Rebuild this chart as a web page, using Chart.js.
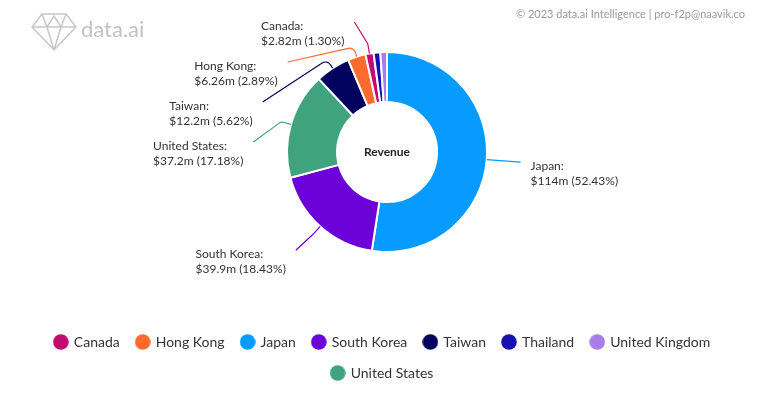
<!DOCTYPE html>
<html>
<head>
<meta charset="utf-8">
<script src="https://cdn.jsdelivr.net/npm/chart.js@4"></script>
<style>
html, body { margin: 0; padding: 0; background: #fff; }
#wrap { width: 765px; height: 393px; position: relative; }
</style>
</head>
<body>
<div id="wrap"><canvas id="myChart"></canvas></div>
<script>
// data, largest first (slice order), legend is sorted by name
const countries = ['Japan', 'South Korea', 'United States', 'Taiwan', 'Hong Kong', 'Canada', 'Thailand', 'United Kingdom'];
const revenue = [114, 39.9, 37.2, 12.2, 6.26, 2.82, 2.36, 2.31]; // $m
const share = [52.43, 18.43, 17.18, 5.62, 2.89, 1.30, 1.08, 1.07]; // %
const colors = ['#079bff', '#6c00d9', '#3fa37e', '#02035f', '#ff6b2c', '#c20a70', '#1611b0', '#a97de8'];
const centerTitle = 'Revenue';
const creditText = '\u00a9 2023 data.ai Intelligence | pro-f2p@naavik.co';
const minLabelShare = 1.2;

Chart.defaults.font.family = 'Lato';

function fmtMoney(v) {
    return '$' + Number(v.toPrecision(3)) + 'm';
}

// round legend markers, a bit bigger than the library's own
function dot(color) {
    const c = document.createElement('canvas');
    c.width = 16;
    c.height = 16;
    const g = c.getContext('2d');
    g.fillStyle = color;
    g.beginPath();
    g.arc(8, 8, 7.8, 0, Math.PI * 2);
    g.fill();
    return c;
}

// header: logo + credit
const headerPlugin = {
    id: 'header',
    beforeDraw(chart) {
        const ctx = chart.ctx;
        ctx.save();
        ctx.strokeStyle = '#c8c8c8';
        ctx.lineWidth = 1.5;
        ctx.lineJoin = 'round';
        ctx.translate(32, 13);
        ctx.beginPath();
        ctx.moveTo(10, 1); ctx.lineTo(34, 1); ctx.lineTo(44, 14);
        ctx.lineTo(22, 37); ctx.lineTo(0, 14); ctx.closePath();
        ctx.moveTo(0, 14); ctx.lineTo(44, 14);
        ctx.moveTo(10, 1); ctx.lineTo(15, 14); ctx.lineTo(22, 37);
        ctx.moveTo(34, 1); ctx.lineTo(29, 14); ctx.lineTo(22, 37);
        ctx.moveTo(15, 14); ctx.lineTo(22, 3); ctx.lineTo(29, 14);
        ctx.stroke();
        ctx.restore();

        ctx.save();
        ctx.fillStyle = '#c2c2c2';
        ctx.font = '22px Lato';
        ctx.textBaseline = 'alphabetic';
        ctx.fillText('data.ai', 81, 37);
        ctx.fillStyle = '#999';
        ctx.font = '11px Lato';
        ctx.textAlign = 'right';
        ctx.textBaseline = 'middle';
        ctx.fillText(creditText, 745, 14);
        ctx.restore();
    }
};

// pie sits a little right of the legend's centre
const shiftPlugin = {
    id: 'pieShift',
    afterLayout(chart) {
        chart.chartArea.left += 9;
        chart.chartArea.width -= 9;
    }
};

// slice labels with connectors + centre title
const labelPlugin = {
    id: 'sliceLabels',
    afterDatasetsDraw(chart) {
        const ctx = chart.ctx;
        const meta = chart.getDatasetMeta(0);
        const items = [];
        meta.data.forEach((arc, i) => {
            if (share[i] < minLabelShare) return;
            const p = arc.getProps(['x', 'y', 'startAngle', 'endAngle', 'outerRadius']);
            const a = (p.startAngle + p.endAngle) / 2;
            const c = Math.cos(a), s = Math.sin(a);
            items.push({
                i: i, cx: p.x, cy: p.y, r: p.outerRadius, right: c >= 0,
                ax: p.x + p.outerRadius * c, ay: p.y + p.outerRadius * s,
                bx: p.x + (p.outerRadius + 10) * c, by: p.y + (p.outerRadius + 10) * s,
                y: p.y + (p.outerRadius + 32) * s
            });
        });
        [true, false].forEach(side => {
            const group = items.filter(it => it.right === side).sort((m, n) => m.y - n.y);
            let last = -Infinity;
            group.forEach(it => {
                it.y = Math.max(it.y, last + 40, 20);
                last = it.y;
            });
        });

        ctx.save();
        ctx.font = '12px Lato';
        ctx.textBaseline = 'middle';
        ctx.textAlign = 'left';
        items.forEach(it => {
            const R = it.r + 34;
            const dy = it.y - it.cy;
            const dx = Math.sqrt(Math.max(R * R - dy * dy, 0));
            let ex = it.right ? it.cx + dx : it.cx - dx;
            if (!it.right) ex = Math.min(ex, it.ax - 10);

            ctx.strokeStyle = colors[it.i];
            ctx.lineWidth = 1.2;
            ctx.beginPath();
            ctx.moveTo(ex, it.y);
            ctx.arcTo(it.bx, it.by, it.ax, it.ay, 6);
            ctx.lineTo(it.ax, it.ay);
            ctx.stroke();

            const lines = [countries[it.i] + ':', fmtMoney(revenue[it.i]) + ' (' + share[it.i].toFixed(2) + '%)'];
            const w = Math.max(...lines.map(t => ctx.measureText(t).width));
            const tx = it.right ? ex + 10 : ex - 10 - w;
            ctx.fillStyle = '#333';
            ctx.fillText(lines[0], tx, it.y + 4);
            ctx.fillText(lines[1], tx, it.y + 19);
        });

        const arc0 = meta.data[0];
        ctx.font = 'bold 12px Lato';
        ctx.textAlign = 'center';
        ctx.fillStyle = '#222';
        ctx.fillText(centerTitle, arc0.x, arc0.y);
        ctx.restore();
    }
};

const data = {
    labels: countries,
    datasets: [{
        data: share,
        backgroundColor: colors,
        borderColor: '#fff',
        borderWidth: 2,
        radius: 100,
        cutout: '50%'
    }]
};

const config = {
    type: 'doughnut',
    data: data,
    options: {
        responsive: true,
        maintainAspectRatio: false,
        animation: false,
        layout: {
            padding: { left: 0, right: 0, top: 0, bottom: 3 }
        },
        plugins: {
            tooltip: { enabled: false },
            legend: {
                position: 'bottom',
                title: {
                    display: true,
                    text: ' ',
                    padding: 0,
                    font: { size: 10, lineHeight: '14px' }
                },
                labels: {
                    color: '#333',
                    font: { size: 14 },
                    padding: 17,
                    usePointStyle: true,
                    pointStyleWidth: 12,
                    boxHeight: 14,
                    sort: (a, b) => a.text.localeCompare(b.text),
                    generateLabels(chart) {
                        const items = Chart.overrides.doughnut.plugins.legend.labels.generateLabels(chart);
                        items.forEach(it => {
                            it.pointStyle = dot(it.fillStyle);
                            it.lineWidth = 0;
                            it.strokeStyle = it.fillStyle;
                        });
                        return items;
                    }
                }
            }
        }
    },
    plugins: [headerPlugin, shiftPlugin, labelPlugin]
};

const myChart = new Chart('myChart', config);
</script>
</body>
</html>
